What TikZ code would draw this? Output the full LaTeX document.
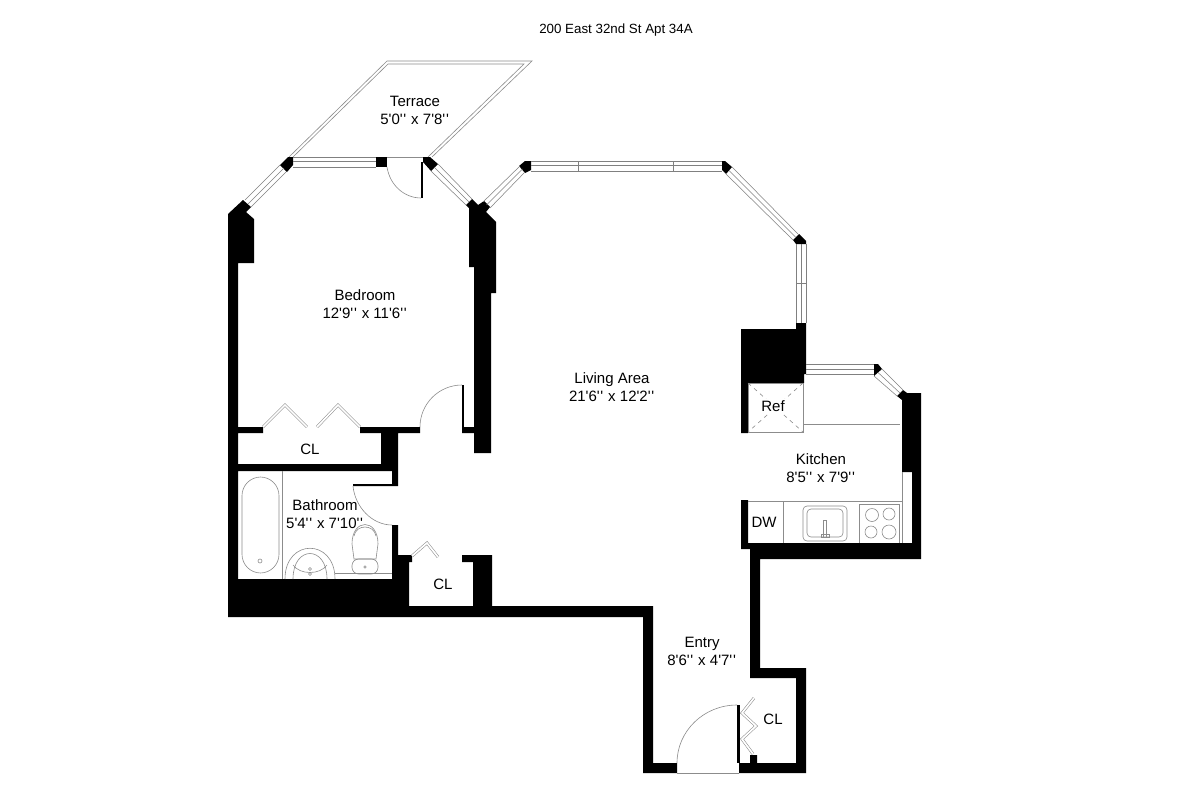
\documentclass[tikz,border=0pt]{standalone}
\usepackage{fontspec}
\newfontfamily\planfont{Liberation Sans}
\newcommand{\inchmark}{'\kern.55pt'\kern.55pt}
\tikzset{
  wall/.style={fill=black,draw=none},
  thin line/.style={draw=black!45,line width=0.45pt},
  glass/.style={draw=black!50,line width=0.4pt},
  bifold/.style={draw=black!45,line width=0.4pt,double=white,double distance=1.3pt},
  room label/.style={align=center,inner sep=0.75pt,font=\planfont\fontsize{11.25}{13.5}\selectfont},
}
\begin{document}
\begin{tikzpicture}[x=0.75pt,y=0.75pt,yscale=-1]
\useasboundingbox (0,0) rectangle (1200,800);
\fill[white] (0,0) rectangle (1200,800);

%Terrace
\draw[thin line] (289,157) -- (387,61) -- (532,61) -- (432,157);
\draw[thin line] (293,157) -- (388,64) -- (524,64) -- (428,157);

%Walls, bedroom and bathroom side
\fill[wall] (228,214) -- (243,200) -- (251,207) -- (246,212) -- (254,219) -- (254,263) -- (238,263) -- (238,427) -- (263,427) -- (263,433) -- (238,433) -- (238,464) -- (381,464) -- (381,433) -- (360,433) -- (360,427) -- (420,427) -- (420,433) -- (398,433) -- (398,486) -- (353,486) -- (353,484) -- (392,484) -- (392,471) -- (238,471) -- (238,579) -- (392,579) -- (392,525) -- (398,525) -- (398,555) -- (412,555) -- (412,562) -- (409,562) -- (409,606) -- (473,606) -- (473,562) -- (462,562) -- (462,555) -- (492,555) -- (492,606) -- (653,606) -- (653,763) -- (677,763) -- (677,773) -- (643,773) -- (643,617) -- (228,617) -- cycle;
%Wall between bedroom and living area
\fill[wall] (466,205) -- (472,199) -- (478,205) -- (484,201) -- (490,207) -- (486,212) -- (496,222) -- (496,293) -- (491,293) -- (491,453) -- (474,453) -- (474,433) -- (462,433) -- (462,427) -- (474,427) -- (474,267) -- (469,267) -- (469,208) -- cycle;
%Walls, entry and kitchen side
\fill[wall] (739,763) -- (750,763) -- (750,755) -- (757,755) -- (757,763) -- (796,763) -- (796,678) -- (750,678) -- (750,549) -- (741,549) -- (741,500) -- (748,500) -- (748,543) -- (912,543) -- (912,472) -- (902,472) -- (902,400) -- (897,396) -- (903,390) -- (907,393) -- (921,393) -- (921,559) -- (760,559) -- (760,668) -- (806,668) -- (806,773) -- (739,773) -- cycle;
\fill[wall] (741,329) -- (796,329) -- (796,323) -- (806,323) -- (806,374) -- (804,374) -- (804,383) -- (748,383) -- (748,433) -- (741,433) -- cycle;
%Window piers
\fill[wall] (288,157) -- (293,157) -- (293,165) -- (287,172) -- (280,165) -- cycle;
\fill[wall] (376,157) rectangle (387,167);
\fill[wall] (423,157) -- (430,157) -- (438,164) -- (431,171) -- (423,162) -- cycle;
\fill[wall] (525,161) -- (531,161) -- (531,170) -- (525,173) -- (519,166) -- cycle;
\fill[wall] (722,161) -- (725,161) -- (732,167) -- (726,174) -- (722,170) -- cycle;
\fill[wall] (799,234) -- (806,241) -- (806,244) -- (796,244) -- (793,240) -- cycle;
\fill[wall] (874,364) -- (878,364) -- (882,369) -- (874,376) -- cycle;

%Bedroom windows
\draw[glass] (245,200) -- (280,165) (248,204) -- (284,168) (251,207) -- (286,172);
\draw[glass] (293,157) -- (376,157) (293,161.5) -- (376,161.5) (293,167) -- (376,167);
\draw[glass] (438,164) -- (472,199) (434.5,167.5) -- (469,202) (431,171) -- (466,205);
%Living area windows
\draw[glass] (483,202) -- (520,166) (486.5,205) -- (522.5,169) (490,208) -- (525,172);
\draw[glass] (531,161) -- (722,161) (531,165.5) -- (722,165.5) (531,171) -- (722,171) (578,161) -- (578,171) (673,161) -- (673,171);
\draw[glass] (732,167) -- (798,234) (729,170.5) -- (795.5,237) (726,174) -- (793,240);
\draw[glass] (796,244) -- (796,323) (801,244) -- (801,323) (806,244) -- (806,323) (796,283) -- (806,283);
%Kitchen windows
\draw[glass] (806,364) -- (874,364) (806,369.5) -- (874,369.5) (806,374) -- (874,374);
\draw[glass] (882,369) -- (903,390) (878,372.5) -- (900,393) (874,376) -- (897,396);

%Doors
\draw[thin line] (387,157) -- (423,157);
\fill[wall] (421,162) rectangle (423,198);
\draw[thin line] (387,167) .. controls (390,186) and (405,198) .. (421,198);
\fill[wall] (462,385) rectangle (464,428);
\draw[thin line] (420,427) arc[start angle=180,end angle=270,radius=42];
\draw[thin line] (353,486) .. controls (355,507) and (372,525) .. (392,525);
\fill[wall] (737,705) rectangle (740,763);
\draw[thin line] (677,763) arc[start angle=180,end angle=270,x radius=60,y radius=58];
\draw[thin line] (677,773) -- (739,773);

%Closet doors
\draw[bifold] (263,427) -- (285,405) -- (307,427);
\draw[bifold] (317,427) -- (338,405) -- (360,427);
\draw[bifold] (412,556) -- (427,543) -- (438,557);
\draw[bifold] (754,698) -- (742,713) -- (756,726) -- (742,739) -- (753,754);

%Bathroom fixtures
\draw[thin line] (282,471) -- (282,579);
\draw[thin line,rounded corners=14pt] (242,477) rectangle (279,573);
\draw[thin line] (260,561) circle (2);
\draw[thin line] (285,579) .. controls (285,538) and (335,538) .. (335,579);
\draw[thin line] (293,579) .. controls (293,545) and (327,545) .. (327,579);
\draw[thin line] (293,565) .. controls (300,575) and (320,575) .. (327,565);
\draw[thin line] (310,569) circle (1.5) (310,574) circle (1.5);
\draw[thin line] (335,573) -- (392,573);
\draw[thin line] (352,544) .. controls (352,518) and (378,518) .. (378,544) -- (376,559) -- (354,559) -- cycle;
\draw[thin line] (354,536) .. controls (356,524) and (374,524) .. (376,536);
\draw[thin line,rounded corners=5pt] (352,559) rectangle (378,574);
\draw[thin line] (365,567) circle (1.3);

%Kitchen fixtures
\draw[thin line] (748,383) rectangle (803,432);
\draw[thin line,dashed] (748,383) -- (803,432) (803,383) -- (748,432);
\draw[thin line] (803,424) -- (900,424);
\draw[thin line] (748,501) -- (902,501);
\draw[thin line] (902,472) -- (902,543);
\draw[thin line] (783,501) -- (783,543);
\draw[thin line,rounded corners=3pt] (803,506) rectangle (847,541);
\draw[thin line,rounded corners=3pt] (807,509) rectangle (843,537);
\draw[thin line] (823,520) rectangle (826,537) (821,534) rectangle (829,537);
\draw[thin line] (859,543) -- (859,504) -- (899,504) -- (899,543);
\draw[thin line] (872,515) circle (6.5) (889,514) circle (6) (871,532) circle (6) (889,532) circle (7);

% Text Node
\node[room label,font=\planfont\fontsize{10}{12}\selectfont] (title) at (616,30) {200 East 32nd St Apt 34A};
\node[room label] (terrace) at (415,110) {Terrace\\5'0\inchmark{} x 7'8\inchmark};
\node[room label] (bedroom) at (365,304) {Bedroom\\12'9\inchmark{} x 11'6\inchmark};
\node[room label] (livingarea) at (612,387) {Living Area\\21'6\inchmark{} x 12'2\inchmark};
\node[room label] (bedroomcl) at (310,449) {CL};
\node[room label] (bathroom) at (325,514) {Bathroom\\5'4\inchmark{} x 7'10\inchmark};
\node[room label] (hallcl) at (443,584) {CL};
\node[room label,fill=white,inner sep=1pt] (ref) at (773,406) {Ref};
\node[room label] (kitchen) at (821,468) {Kitchen\\8'5\inchmark{} x 7'9\inchmark};
\node[room label] (dw) at (764,522) {DW};
\node[room label] (entry) at (702,651) {Entry\\8'6\inchmark{} x 4'7\inchmark};
\node[room label] (entrycl) at (773,719) {CL};
\end{tikzpicture}
\end{document}
